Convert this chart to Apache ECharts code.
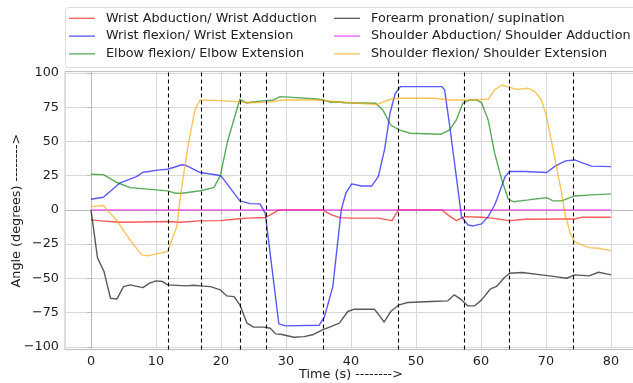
<!DOCTYPE html>
<html><head><meta charset="utf-8">
<script src="https://cdn.jsdelivr.net/npm/echarts@6/dist/echarts.min.js"></script>
<style>html,body{margin:0;padding:0;background:#fff}#c{width:633px;height:383px}</style>
</head><body><div id="c"></div><script>
const seriesNames = [
  'Wrist Abduction/ Wrist Adduction',
  'Wrist flexion/ Wrist Extension',
  'Elbow flexion/ Elbow Extension',
  'Forearm pronation/ supination',
  'Shoulder Abduction/ Shoulder Adduction',
  'Shoulder flexion/ Shoulder Extension'
];
const wristAbduction = [[0,-7.3],[1.5,-8],[2.9,-8.5],[4.4,-9],[8,-8.8],[11.8,-8.5],[13.7,-9],[16.8,-8],[19.9,-7.8],[22,-6.8],[24,-6],[26.8,-5.5],[27.6,-3.6],[28.9,0],[35.6,0],[37,-3.6],[38.3,-5.6],[40.1,-6],[44.2,-6],[46.3,-7.8],[47.3,0],[54,0],[54.9,-3.6],[56.2,-7.8],[57.5,-4.9],[60.1,-5.4],[61.6,-6],[64.4,-7.8],[66.8,-6.8],[72.4,-6.6],[74.4,-6.6],[75.5,-5.4],[80,-5.4]];
const wristFlexion = [[0,7.8],[1.9,9.2],[4.4,19.5],[7,24.3],[8,27.5],[10.6,29.2],[11.8,29.7],[14,33],[14.7,32.4],[16.8,27.3],[19.4,25.5],[20,24.8],[22.9,6.6],[24.5,4.6],[26,4.4],[26.8,-2.4],[28.9,-83.2],[29.9,-84.7],[35.1,-84.2],[35.9,-78.3],[37.2,-56],[38.5,0],[39.2,12.2],[40.1,19],[41.6,17.5],[43.2,17.5],[44.2,24.3],[45.2,45],[46,70.6],[46.8,85],[47.6,90],[54,90],[54.4,87.6],[55.2,60.8],[56.2,24.3],[57,-4.9],[58,-11],[58.8,-11.7],[60.1,-10.2],[61.1,-4.9],[62.1,3.6],[62.4,7.3],[63.7,24.3],[64.4,28],[66.8,28],[70.1,27.3],[71.4,32],[73,35.8],[74.4,36.5],[75.5,34.5],[77,32],[80,31.6]];
const elbowFlexion = [[0,26],[1.9,25.8],[4,20],[6,16.3],[10,14.6],[11.8,13.9],[13,12.2],[14,12.2],[16.8,14],[18.9,16.3],[19.9,25],[21,50],[22.9,80.8],[24,78],[24.5,78.6],[26.8,79.8],[28.1,80.3],[29.1,82.7],[34.8,81],[35.7,80.3],[36.9,78.6],[38,79],[39,78.3],[43.8,77.9],[44.9,73],[46.1,62],[47.4,58.4],[49.1,56],[53.8,55.2],[55.2,58.4],[56.2,65.7],[57.2,77.9],[58.3,80.3],[59.3,80.3],[60.1,78.3],[61.1,65.7],[62.1,41.4],[63.2,21.9],[64.2,7.8],[65,6],[67.3,7.3],[69.3,8.5],[70.1,9],[71.1,6.6],[72.4,6.6],[74.4,10.2],[77,11],[80,11.7]];
const forearmPronation = [[0,0],[1,-35],[2,-45],[3,-64.5],[4,-65],[5,-56],[6,-54.7],[8,-56.7],[9,-53.5],[10,-51.8],[11,-52.3],[11.8,-54.7],[14.7,-55.5],[15.8,-55],[16.8,-55.5],[18.4,-56],[19.9,-58.4],[20.9,-62.8],[22,-63.3],[22.9,-69.3],[24,-82.7],[25,-85.6],[26.6,-85.6],[27.6,-86.4],[28.4,-90.5],[29.2,-90.8],[31.2,-93],[32.8,-92.5],[34.1,-91.2],[35.6,-87.6],[36.9,-85.2],[38.2,-82.7],[39.5,-74.2],[40.5,-72.5],[43.6,-72.5],[44.3,-76.6],[45.1,-82],[46.1,-74.2],[47.4,-69.3],[48.7,-67.6],[52.3,-66.9],[54.9,-66.4],[55.9,-62],[57,-65.7],[58,-70.1],[59,-70.1],[60.1,-65.7],[61.4,-57.9],[62.4,-55.9],[63.5,-49.9],[64.4,-46.2],[66.3,-45.7],[69.3,-47.4],[71.4,-48.7],[73.2,-49.9],[74.4,-47.4],[76.6,-48.2],[78.1,-45.5],[80,-47.4]];
const shoulderAbduction = [[0,0],[80,0]];
const shoulderFlexion = [[0,2.4],[1.9,3.2],[3.9,-7.3],[6,-21.9],[7.8,-32.8],[8.6,-33.6],[10.1,-32.1],[11.8,-30.4],[13.2,-12.2],[13.7,7.3],[14.2,24.3],[15,48.7],[16,73],[16.8,80.3],[19.9,79.8],[22.9,79],[24.5,78.3],[26.8,78.6],[29.6,80.3],[34.8,80.3],[39.9,78.3],[44,77],[46.1,80.8],[47.4,81.5],[52.8,81.5],[55.4,80.3],[57.5,80.3],[61.1,80.8],[62.1,87.6],[63.2,91.2],[64.4,89.5],[65.5,88],[67.3,88.8],[68.3,86.4],[69.3,80.3],[70.1,68],[71.4,36.5],[72.4,12.2],[73,-4.9],[73.2,-7.3],[73.7,-17],[74.4,-23.2],[75.5,-25.5],[76.6,-27.5],[78.1,-28],[80,-29.7]];
const eventTimes = [11.9, 16.9, 22.9, 26.9, 35.7, 47.2, 57.4, 64.3, 74.2];
const xTicks = [0,10,20,30,40,50,60,70,80];
const yTicks = [-100,-75,-50,-25,0,25,50,75,100];
const colors = ['#ff0000','#0000ff','#008000','#000000','#ff00ff','#ffa500'];
const allData = [wristAbduction, wristFlexion, elbowFlexion, forearmPronation, shoulderAbduction, shoulderFlexion];

const font = 'DejaVu Sans';
const fmt = v => String(v).replace('-', '\u2212');
const series = allData.map((d, i) => ({
  name: seriesNames[i], type: 'line', data: d, symbol: 'none', z: 3,
  lineStyle: { color: colors[i], width: 1.4, opacity: 0.65 },
  itemStyle: { color: colors[i], opacity: 0.65 }
}));
series.push({
  type: 'line', data: [], silent: true, z: 4,
  markLine: {
    symbol: 'none', silent: true, label: { show: false },
    lineStyle: { color: '#000', type: [4, 3], width: 1.1, opacity: 1 },
    data: eventTimes.map(t => ({ xAxis: t }))
  }
});
const legendText = { fontFamily: font, fontSize: 12.8, color: '#222', lineHeight: 14, padding: [0, 0, 0, 6] };
const legendIcon = 'path://M0,0 L26,0 L26,1.3 L0,1.3 Z';
const chart = echarts.init(document.getElementById('c'), null, { renderer: 'canvas' });
chart.setOption({
  animation: false,
  backgroundColor: '#fff',
  textStyle: { fontFamily: font },
  grid: { left: 65, top: 71.6, width: 572, height: 278, outerBoundsMode: 'none', containLabel: false, show: true, borderColor: '#bbb', borderWidth: 1, backgroundColor: 'transparent' },
  legend: [
    { orient: 'vertical', left: 69, top: 11.3, padding: 0, itemWidth: 26, itemHeight: 10, itemGap: 3.8,
      textStyle: legendText, data: seriesNames.slice(0,3), icon: legendIcon },
    { orient: 'vertical', left: 334, top: 11.3, padding: 0, itemWidth: 26, itemHeight: 10, itemGap: 3.8,
      textStyle: legendText, data: seriesNames.slice(3,6), icon: legendIcon }
  ],
  graphic: [{ type: 'rect', left: 65, top: 7, shape: { width: 580, height: 60, r: 3 }, style: { fill: 'rgba(255,255,255,0.8)', stroke: '#ddd', lineWidth: 1 }, z: -1 }],
  xAxis: {
    type: 'value', min: -4, max: 84,
    name: 'Time (s) -------->', nameLocation: 'middle', nameGap: 19, nameMoveOverlap: false,
    nameTextStyle: { fontFamily: font, fontSize: 12.8, color: '#222' },
    axisLine: { show: true, lineStyle: { color: '#bbb' } },
    axisTick: { show: true, length: 4, lineStyle: { color: '#bbb' }, customValues: xTicks },
    axisLabel: { fontFamily: font, fontSize: 12.8, color: '#222', margin: 6, customValues: xTicks, formatter: fmt },
    splitLine: { show: true, lineStyle: { color: '#d9d9d9', width: 1 } }
  },
  yAxis: {
    type: 'value', min: -102, max: 101,
    name: 'Angle (degrees) -------->', nameLocation: 'middle', nameGap: 42, nameMoveOverlap: false,
    nameTextStyle: { fontFamily: font, fontSize: 12.8, color: '#222' },
    axisLine: { show: true, lineStyle: { color: '#bbb' } },
    axisTick: { show: true, length: 4, lineStyle: { color: '#bbb' }, customValues: yTicks },
    axisLabel: { fontFamily: font, fontSize: 12.8, color: '#222', margin: 6, customValues: yTicks, formatter: fmt },
    splitLine: { show: true, lineStyle: { color: '#d9d9d9', width: 1 } }
  },
  series: series
});
</script></body></html>
